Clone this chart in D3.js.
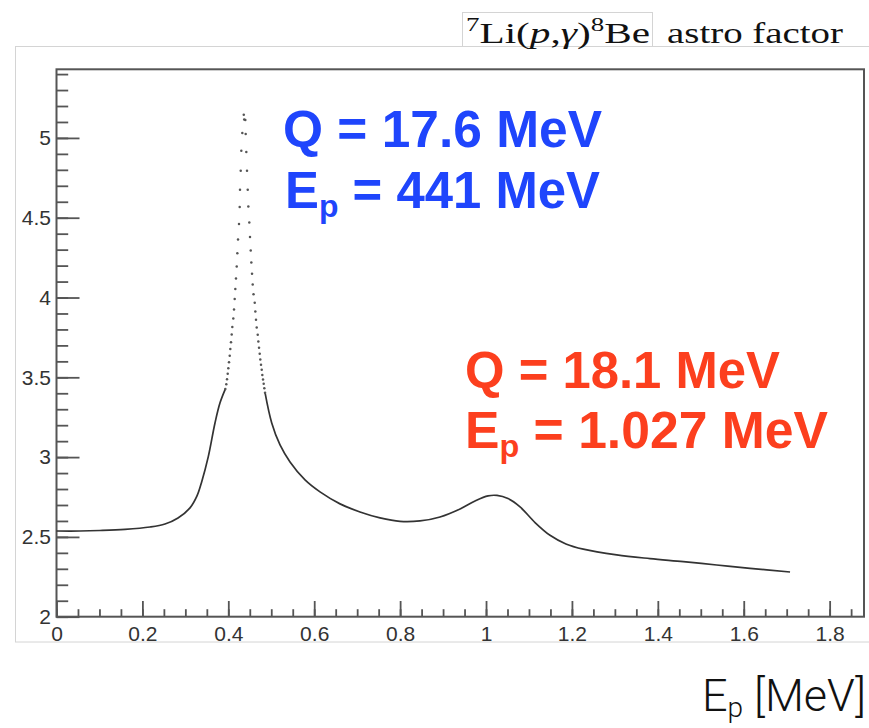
<!DOCTYPE html>
<html><head><meta charset="utf-8">
<script src="https://cdn.jsdelivr.net/npm/d3@7"></script>
<style>body{margin:0;background:#fff}</style>
</head><body>
<svg id="chart" width="869" height="728"></svg>
<script>
// ---- data ----
const xTickValues = [0, 0.2, 0.4, 0.6, 0.8, 1, 1.2, 1.4, 1.6, 1.8];
const xTickLabels = ["0", "0.2", "0.4", "0.6", "0.8", "1", "1.2", "1.4", "1.6", "1.8"];
const yTickValues = [2, 2.5, 3, 3.5, 4, 4.5, 5];
const yTickLabels = ["2", "2.5", "3", "3.5", "4", "4.5", "5"];

// smooth part below the first resonance (E_p in MeV, S factor)
const leftE = [0, 0.0547, 0.1013, 0.1595, 0.2177, 0.2526, 0.2829, 0.3108, 0.3271, 0.3381, 0.3534, 0.3690, 0.3807, 0.3930];
const leftS = [2.537, 2.537, 2.540, 2.547, 2.562, 2.581, 2.619, 2.682, 2.757, 2.846, 3.003, 3.214, 3.340, 3.426];

// individually visible points around the 441 keV resonance
const peakE = [0.3930, 0.3953, 0.3970, 0.3986, 0.4000, 0.4016, 0.4033, 0.4047, 0.4063, 0.4079, 0.4093, 0.4116, 0.4133, 0.4149,
  0.4163, 0.4179, 0.4196, 0.4210, 0.4226, 0.4249, 0.4265, 0.4272, 0.4289, 0.4303, 0.4326, 0.4360, 0.4370, 0.4396, 0.4405,
  0.4419, 0.4435, 0.4452, 0.4466, 0.4489, 0.4505, 0.4522, 0.4536, 0.4552, 0.4568, 0.4587, 0.4615, 0.4629, 0.4645, 0.4661,
  0.4685, 0.4699, 0.4715, 0.4731, 0.4745, 0.4761, 0.4778, 0.4792, 0.4808, 0.4824, 0.4838, 0.4855];
const peakS = [3.426, 3.457, 3.488, 3.522, 3.557, 3.595, 3.635, 3.677, 3.720, 3.768, 3.816, 3.868, 3.925, 3.990,
  4.053, 4.119, 4.194, 4.278, 4.364, 4.460, 4.567, 4.675, 4.794, 4.920, 5.031, 5.145, 5.116, 5.112, 5.024,
  4.912, 4.794, 4.675, 4.571, 4.470, 4.379, 4.295, 4.219, 4.149, 4.082, 4.020, 3.967, 3.912, 3.860, 3.812,
  3.766, 3.724, 3.685, 3.647, 3.611, 3.578, 3.547, 3.515, 3.486, 3.459, 3.432, 3.404];

// smooth part above the first resonance, including the 1.027 MeV bump
const rightE = [0.4855, 0.5011, 0.5204, 0.5437, 0.5786, 0.6135, 0.6601, 0.7066, 0.7532, 0.7998, 0.8463, 0.8929, 0.9395,
  0.9744, 1.0047, 1.0256, 1.0512, 1.0792, 1.1141, 1.1490, 1.1860, 1.2265, 1.3043, 1.3818, 1.4594, 1.5371, 1.6147, 1.7078];
const rightS = [3.404, 3.214, 3.076, 2.970, 2.857, 2.782, 2.707, 2.656, 2.619, 2.597, 2.600, 2.625, 2.675,
  2.725, 2.757, 2.760, 2.740, 2.688, 2.590, 2.510, 2.456, 2.423, 2.387, 2.364, 2.345, 2.324, 2.303, 2.280];

const xDomain = [0, 1.88];
const yDomain = [2, 5.43];

// ---- drawing ----
const svg = d3.select("#chart");
const L = 56.5, R = 864, T = 69.3, B = 616.7;
const x = d3.scaleLinear().domain(xDomain).range([L, R]);
const y = d3.scaleLinear().domain(yDomain).range([B, T]);

// canvas border & title line
svg.append("rect").attr("x", 15.5).attr("y", 46.5).attr("width", 900).attr("height", 595.5)
  .attr("fill", "none").attr("stroke", "#d4d4d4").attr("stroke-width", 1);

// title
svg.append("rect").attr("x", 462.5).attr("y", 12.5).attr("width", 190).attr("height", 34)
  .attr("fill", "#fff").attr("stroke", "#d4d4d4").attr("stroke-width", 1);
const title = svg.append("text").attr("x", 466).attr("y", 43)
  .attr("font-family", "'Liberation Serif', 'DejaVu Serif', serif").attr("font-size", 29).attr("fill", "#111")
  .attr("textLength", 184).attr("lengthAdjust", "spacingAndGlyphs");
title.append("tspan").attr("font-size", 19).attr("dy", -12).text("7");
title.append("tspan").attr("dy", 12).text("Li(");
title.append("tspan").attr("font-style", "italic").text("p");
title.append("tspan").text(",");
title.append("tspan").attr("font-style", "italic").text("γ");
title.append("tspan").text(")");
title.append("tspan").attr("font-size", 19).attr("dy", -12).text("8");
title.append("tspan").attr("dy", 12).text("Be");
svg.append("text").attr("x", 667).attr("y", 43)
  .attr("font-family", "'Liberation Serif', 'DejaVu Serif', serif").attr("font-size", 29).attr("fill", "#111")
  .attr("textLength", 176).attr("lengthAdjust", "spacingAndGlyphs")
  .text("astro factor");

// axes
const axisColor = "#555";
const gx = svg.append("g").attr("transform", `translate(0,${B})`);
gx.call(d3.axisBottom(x).tickValues(d3.range(0, 1.8801, 0.05)).tickSize(-7.5).tickFormat(""));
gx.append("g").call(d3.axisBottom(x).tickValues(xTickValues).tickSize(-15.7).tickPadding(9)
  .tickFormat((d, i) => xTickLabels[i]));
const gy = svg.append("g").attr("transform", `translate(${L},0)`);
gy.call(d3.axisLeft(y).tickValues(d3.range(2, 5.4301, 0.1)).tickSize(-11.7).tickFormat(""));
gy.append("g").call(d3.axisLeft(y).tickValues(yTickValues).tickSize(-23).tickPadding(5.5)
  .tickFormat((d, i) => yTickLabels[i]));
svg.selectAll(".domain").remove();
svg.selectAll(".tick line").attr("stroke", axisColor).attr("stroke-width", 1.8);
svg.selectAll(".tick text").attr("font-family", "'Liberation Sans', Arial, sans-serif")
  .attr("font-size", 21).attr("fill", "#333");

// frame
svg.append("rect").attr("x", L).attr("y", T).attr("width", R - L).attr("height", B - T)
  .attr("fill", "none").attr("stroke", axisColor).attr("stroke-width", 2);

// curve
const line = d3.line().x(d => x(d[0])).y(d => y(d[1])).curve(d3.curveCatmullRom.alpha(0.5));
svg.append("path").datum(leftE.map((e, i) => [e, leftS[i]]))
  .attr("d", line).attr("fill", "none").attr("stroke", "#333").attr("stroke-width", 1.7);
svg.append("path").datum(rightE.map((e, i) => [e, rightS[i]]))
  .attr("d", line).attr("fill", "none").attr("stroke", "#333").attr("stroke-width", 1.7);
svg.append("g").selectAll("circle").data(peakE.map((e, i) => [e, peakS[i]])).join("circle")
  .attr("cx", d => x(d[0])).attr("cy", d => y(d[1])).attr("r", 1.25).attr("fill", "#555");

// annotations
function label(xp, yp, main, sub, rest, color, len) {
  const t = svg.append("text").attr("x", xp).attr("y", yp)
    .attr("font-family", "'Liberation Sans', Arial, sans-serif").attr("font-weight", "bold")
    .attr("font-size", 51).attr("fill", color)
    .attr("textLength", len).attr("lengthAdjust", "spacingAndGlyphs");
  t.append("tspan").text(main);
  if (sub) {
    t.append("tspan").attr("font-size", 32).attr("dy", 9).text(sub);
    t.append("tspan").attr("dy", -9).text(rest);
  }
}
const blue = "#1f45fc", red = "#fc3f1e";
label(283, 147, "Q = 17.6 MeV", null, null, blue, 319);
label(285, 208, "E", "p", " = 441 MeV", blue, 315);
label(465, 388, "Q = 18.1 MeV", null, null, red, 315);
label(465, 448, "E", "p", " = 1.027 MeV", red, 363);

// axis title
const at = svg.append("text").attr("x", 702).attr("y", 711)
  .attr("font-family", "Roboto, Lato, 'Liberation Sans', sans-serif").attr("font-weight", 300)
  .attr("font-size", 45).attr("fill", "#111");
at.append("tspan").text("E");
at.append("tspan").attr("font-size", 28).attr("dy", 6).text("p");
at.append("tspan").attr("dy", -6).text(" [MeV]");
</script>
</body></html>
